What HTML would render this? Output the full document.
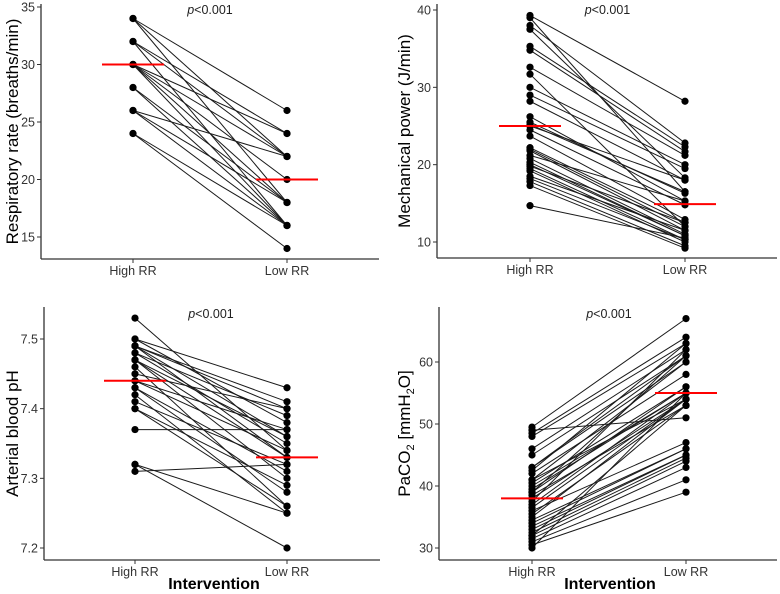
<!DOCTYPE html>
<html><head><meta charset="utf-8">
<style>
body{margin:0;background:#fff;}
svg{display:block;font-family:"Liberation Sans",sans-serif;}
.tick{font-size:12.5px;fill:#333;}
.ytitle{font-size:17px;fill:#000;}
.ptext{font-size:12.5px;fill:#222;}
</style></head>
<body>
<svg id="chart" width="780" height="594" viewBox="0 0 780 594"></svg>
<script>
// Panel 1: respiratory rate
const rrHigh = [34,34,34,32,32,32,30,30,30,30,30,28,28,26,26,26,24,24];
const rrLow  = [26,22,18,24,22,16,24,22,20,18,16,18,16,22,18,16,14,16];
const rrMeans = [30,20];
const rrTicks = [15,20,25,30,35];
// Panel 2: mechanical power
const mpHigh = [39.3,39,38,37.5,35.3,34.8,32.6,31.7,30,29,28.2,26.2,25.5,25,24.5,23.7,22.2,21.8,21.2,20.8,20.3,19.8,19.5,19.2,18.5,18.2,17.8,17.3,14.7,25.2,22,20];
const mpLow  = [28.2,16.5,22.8,18.3,22.3,21.7,21.2,12,20,19.5,18,15.3,16.3,18,14.8,12.9,12.5,11.5,15.3,11,10.8,12.5,10.3,10,11.5,10.3,9.5,9.2,10.5,16.5,12,10.8];
const mpMeans = [25,14.9];
const mpTicks = [10,20,30,40];
// Panel 3: pH
const phHigh = [7.53,7.50,7.50,7.49,7.49,7.49,7.48,7.48,7.47,7.47,7.46,7.44,7.44,7.43,7.43,7.42,7.41,7.40,7.40,7.37,7.32,7.32,7.31,7.49,7.47,7.45];
const phLow  = [7.34,7.43,7.38,7.41,7.40,7.33,7.39,7.35,7.36,7.30,7.26,7.37,7.34,7.28,7.31,7.25,7.32,7.26,7.29,7.37,7.25,7.20,7.32,7.36,7.33,7.40];
const phMeans = [7.44,7.33];
const phTicks = [7.2,7.3,7.4,7.5];
// Panel 4: PaCO2
const coHigh = [49.5,49,48.5,48,46,45,43,42.5,42,41,40.5,40,39.5,39,38.5,38,37.5,37,36,35.5,35,34,33,32.5,32,31.5,31,30.5,30,43,41,39,36.5,34.5,33.5,32];
const coLow  = [67,51,64,63,62,61,60,63,58,54,56,55,55,61,53,54,62,55,47,53,54,46,45,44.5,44,43,41,39,55,61,60,56,54,46,45,53];
const coMeans = [38,55];
const coTicks = [30,40,50,60];

const svg = document.getElementById('chart');
const NS = 'http://www.w3.org/2000/svg';
function mk(tag, attrs, parent){const e=document.createElementNS(NS,tag);for(const k in attrs)e.setAttribute(k,attrs[k]);(parent||svg).appendChild(e);return e;}

function panel(cfg){
  const g = mk('g',{});
  
  
  const y = v => cfg.y0 + (v - cfg.v0) * (cfg.y1 - cfg.y0) / (cfg.v1 - cfg.v0);
  const xH = cfg.xH, xL = cfg.xL;
  const ax = mk('line',{x1:cfg.ax,y1:cfg.top,x2:cfg.ax,y2:cfg.bottom,stroke:'#333','stroke-width':1.3},g);
   
  const bx = mk('line',{x1:cfg.ax,y1:cfg.bottom,x2:cfg.right,y2:cfg.bottom,stroke:'#333','stroke-width':1.3},g);
   
  cfg.ticks.forEach(t=>{
    const yy=y(t);
    const tl=mk('line',{x1:cfg.ax-4,y1:yy,x2:cfg.ax,y2:yy,stroke:'#333','stroke-width':1},g);
     
    const tx=mk('text',{x:cfg.ax-6,y:yy+4.5,'text-anchor':'end',class:'tick'},g);
    tx.textContent = cfg.fmt ? cfg.fmt(t) : t;
     
  });
  [[xH,'High RR'],[xL,'Low RR']].forEach(([xx,lab])=>{
    const tl=mk('line',{x1:xx,y1:cfg.bottom,x2:xx,y2:cfg.bottom+4,stroke:'#333','stroke-width':1},g);
     
    const tx=mk('text',{x:xx,y:cfg.bottom+16,'text-anchor':'middle',class:'tick'},g);
    tx.textContent=lab;
     
  });
  cfg.hi.forEach((h,i)=>{
    const l=mk('line',{x1:xH,y1:y(h),x2:xL,y2:y(cfg.lo[i]),stroke:'#1a1a1a','stroke-width':1},g);
     
  });
  cfg.hi.forEach(h=>{
    const c=mk('circle',{cx:xH,cy:y(h),r:3.6,fill:'#000'},g);
     
  });
  cfg.lo.forEach(v=>{
    const c=mk('circle',{cx:xL,cy:y(v),r:3.6,fill:'#000'},g);
     
  });
  [xH,xL].forEach((xx,i)=>{
    const m=mk('line',{x1:xx-31,y1:y(cfg.means[i]),x2:xx+31,y2:y(cfg.means[i]),stroke:'#ff0000','stroke-width':2},g);
     
  });
  const p=mk('text',{x:(xH+xL)/2,y:cfg.pY,'text-anchor':'middle',class:'ptext'},g);
  p.innerHTML='<tspan font-style="italic">p</tspan>&lt;0.001';
   
  const t=mk('text',{x:0,y:0,'text-anchor':'middle',class:'ytitle',transform:`translate(${cfg.tX},${(cfg.top+cfg.bottom)/2}) rotate(-90)`},g);
  t.innerHTML=cfg.title;
   
  if(cfg.xtitle){
    const xt=mk('text',{x:(cfg.ax+cfg.right)/2+2,y:589,'text-anchor':'middle','font-size':'16px','font-weight':'bold'},g);
    xt.textContent='Intervention';
     
  }
}

panel({name:'respiratory-rate-panel',ax:41,top:4,bottom:259,right:379,xH:133,xL:287,v0:35,y0:7,v1:15,y1:237,ticks:rrTicks,hi:rrHigh,lo:rrLow,means:rrMeans,pY:14,tX:18,title:'Respiratory rate (breaths/min)'});
panel({name:'mechanical-power-panel',ax:437,top:4,bottom:258,right:777,xH:530,xL:685,v0:40,y0:10,v1:10,y1:242,ticks:mpTicks,hi:mpHigh,lo:mpLow,means:mpMeans,pY:14,tX:410,title:'Mechanical power (J/min)'});
panel({name:'ph-panel',ax:44,top:307,bottom:560,right:380,xH:135,xL:287,v0:7.5,y0:339,v1:7.2,y1:548,ticks:phTicks,hi:phHigh,lo:phLow,means:phMeans,pY:318,tX:18,title:'Arterial blood pH',fmt:v=>v.toFixed(1),xtitle:true});
panel({name:'paco2-panel',ax:439,top:307,bottom:560,right:777,xH:532,xL:686,v0:60,y0:362,v1:30,y1:548,ticks:coTicks,hi:coHigh,lo:coLow,means:coMeans,pY:318,tX:410,title:'PaCO<tspan font-size="11" dy="4">2</tspan><tspan dy="-4"> [mmH</tspan><tspan font-size="11" dy="4">2</tspan><tspan dy="-4">O]</tspan>',xtitle:true});
</script>
</body></html>
